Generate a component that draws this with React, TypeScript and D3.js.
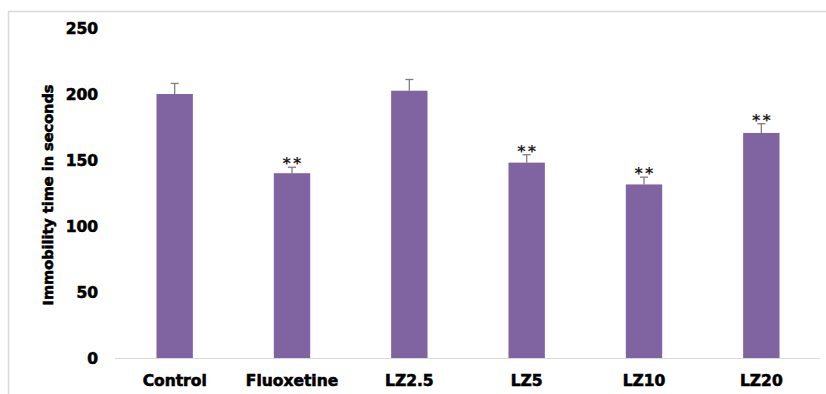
import React, { useEffect, useRef } from 'react';
import * as d3 from 'd3';

const groups = ['Control', 'Fluoxetine', 'LZ2.5', 'LZ5', 'LZ10', 'LZ20'];
const means = [200, 140, 202.5, 148, 131.5, 170.5];
const errors = [8, 4.5, 8.5, 6, 5.5, 7];
const marks = ['', '**', '', '**', '**', '**'];
const yTicks = [0, 50, 100, 150, 200, 250];

const W = 826;
const H = 394;
const FONT = '"DejaVu Sans", Arial, sans-serif';

const App = () => {
  const svgRef = useRef<SVGSVGElement>(null);

  useEffect(() => {
    const svg = d3.select(svgRef.current);
    svg.selectAll('*').remove();

    const data = groups.map((g, i) => ({ g, v: means[i], e: errors[i], m: marks[i] }));

    const x = d3.scaleBand().domain(groups).range([116, 820]).paddingInner(0.69).paddingOuter(0.345);
    const y = d3.scaleLinear().domain([0, 250]).range([358, 28]);

    // outer frame (only top and left edges visible)
    svg.append('line').attr('x1', 8).attr('x2', W).attr('y1', 11.5).attr('y2', 11.5)
      .attr('stroke', '#d9d9d9').attr('stroke-width', 1.5);
    svg.append('line').attr('x1', 8.5).attr('x2', 8.5).attr('y1', 11).attr('y2', H)
      .attr('stroke', '#d9d9d9').attr('stroke-width', 1.5);

    // baseline
    svg.append('line').attr('x1', 115).attr('x2', 820).attr('y1', y(0) + 0.5).attr('y2', y(0) + 0.5)
      .attr('stroke', '#d9d9d9').attr('stroke-width', 1);

    const heavy = (sel: any, size: string) =>
      sel.style('font-family', FONT).style('font-weight', 'bold').style('font-size', size)
        .attr('fill', '#000').attr('stroke', '#000').attr('stroke-width', 0.6);

    // y tick labels
    heavy(svg.append('g').selectAll('text').data(yTicks).enter().append('text')
      .attr('x', 98).attr('y', (d: number) => y(d))
      .attr('dy', '0.36em')
      .attr('text-anchor', 'end'), '15.5px')
      .text((d: number) => d);

    // bars
    svg.append('g').selectAll('rect').data(data).enter().append('rect')
      .attr('x', (d) => x(d.g)!)
      .attr('y', (d) => y(d.v))
      .attr('width', x.bandwidth())
      .attr('height', (d) => y(0) - y(d.v))
      .attr('fill', '#8064a2');

    // error bars (upper half only)
    const eb = svg.append('g').attr('stroke', '#7f7f7f').attr('stroke-width', 1.3);
    data.forEach((d) => {
      const cx = x(d.g)! + x.bandwidth() / 2;
      eb.append('line').attr('x1', cx).attr('x2', cx).attr('y1', y(d.v)).attr('y2', y(d.v + d.e));
      eb.append('line').attr('x1', cx - 4).attr('x2', cx + 4).attr('y1', y(d.v + d.e)).attr('y2', y(d.v + d.e));
    });

    // significance marks
    const sg = svg.append('g');
    data.filter((d) => d.m).forEach((d) => {
      const cx = x(d.g)! + x.bandwidth() / 2;
      const n = d.m.length;
      d.m.split('').forEach((s, k) => {
        sg.append('text')
          .attr('x', cx + (k - (n - 1) / 2) * 10.5)
          .attr('y', y(d.v + d.e) + 2)
          .attr('text-anchor', 'middle')
          .style('font-family', FONT).style('font-weight', 'bold').style('font-size', '16px')
          .attr('fill', '#222')
          .text(s);
      });
    });

    // x labels
    heavy(svg.append('g').selectAll('text').data(groups).enter().append('text')
      .attr('x', (d: string) => x(d)! + x.bandwidth() / 2)
      .attr('y', 386)
      .attr('text-anchor', 'middle'), '15.5px')
      .text((d: string) => d);

    // y axis title
    heavy(svg.append('text')
      .attr('transform', `translate(53, 195) rotate(-90)`)
      .attr('text-anchor', 'middle'), '14.5px')
      .text('Immobility time in seconds');
  }, []);

  return (
    <svg
      ref={svgRef}
      width={W}
      height={H}
      style={{ position: 'absolute', left: 0, top: 0, background: '#fff' }}
    ></svg>
  );
};

export default App;
